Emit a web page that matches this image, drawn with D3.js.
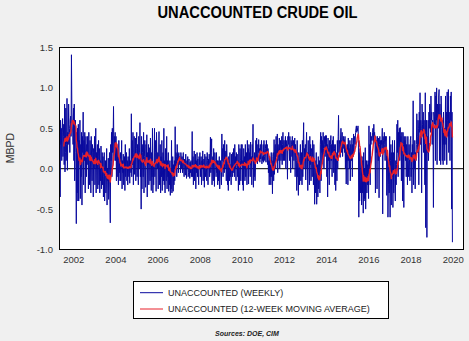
<!DOCTYPE html>
<html><head><meta charset="utf-8">
<script src="https://cdn.jsdelivr.net/npm/d3@7"></script>
<style>html,body{margin:0;padding:0;background:#f0f0f0;} svg{display:block;}</style>
</head><body><svg id="c" width="469" height="341"></svg>
<script>
// Weekly unaccounted crude (MBPD), one array per year (2001 starts in May)
const w2001 = [-0.58,0.55,-0.35,0.6,0.3,0.5,0.1,0.45,0.62,0.15,0.4,0.55,0.05,0.8,-0.04,0.2,0.75,0.1,0.3,0.87,-0.02,0.45,0.3,0.8,0.55,0.5,0.2,0.6,0.65,0.4,1.41,0.75,0.5,0.5,0.3];
const w2002 = [0.75,0.1,0.8,-0.15,0.5,0.6,0.2,-0.68,0.45,-0.3,0.5,-0.4,0.55,-0.4,0.35,0.1,0.6,-0.37,0.3,-0.1,0.45,-0.45,0.4,0.2,0.7,-0.2,0.35,0.1,0.45,-0.3,0.2,0.4,-0.1,0.3,0.05,0.4,0.3,-0.25,0.45,0.05,-0.2,0.35,0.15,-0.3,0.4,0.1,-0.15,0.3,0.2,-0.35,0.25,0.0];
const w2003 = [0.4,-0.2,0.1,0.5,-0.3,0.2,0.0,0.3,-0.25,0.15,0.35,-0.2,0.25,-0.3,0.1,-0.15,0.28,-0.25,0.0,0.2,-0.2,0.15,-0.35,-0.1,0.2,-0.4,-0.05,0.1,-0.3,-0.2,0.25,-0.45,0.0,-0.15,0.13,-0.38,-0.1,0.2,-0.3,-0.67,0.3,0.1,0.45,-0.1,0.5,0.2,0.35,0.77,0.1,0.4,0.25,0.45];
const w2004 = [0.1,0.4,-0.15,0.3,-0.1,0.25,0.0,-0.2,0.35,-0.05,0.1,-0.15,0.2,-0.15,0.05,0.35,-0.25,0.1,-0.05,0.18,-0.2,0.0,0.15,-0.27,0.3,-0.1,0.05,0.2,-0.15,0.1,-0.2,0.15,0.0,-0.1,0.25,-0.18,0.1,0.05,-0.05,0.68,-0.1,0.35,0.05,0.45,-0.2,0.2,0.4,-0.07,0.1,0.38,-0.15,0.25];
const w2005 = [0.45,-0.1,0.3,0.1,-0.2,0.4,0.0,0.2,0.57,-0.1,0.15,-0.5,0.4,-0.25,0.2,0.3,-0.1,0.45,-0.3,0.15,0.35,0.0,-0.23,0.3,0.1,0.42,-0.35,0.2,0.05,0.3,-0.2,0.26,0.1,-0.15,0.38,0.0,-0.27,0.2,-0.1,0.5,-0.3,0.05,-0.2,0.1,0.5,-0.1,0.35,0.2,-0.28,0.45,0.1,0.0];
const w2006 = [0.2,-0.25,0.1,0.46,-0.2,0.0,0.3,-0.3,0.15,-0.1,0.35,-0.27,0.05,0.2,-0.15,0.5,-0.2,0.1,-0.3,0.25,0.0,-0.15,0.4,-0.25,0.1,-0.1,0.2,-0.28,0.05,-0.2,0.1,-0.33,0.0,-0.25,0.35,-0.3,-0.1,0.15,-0.28,0.05,-0.2,0.1,-0.15,0.52,0.0,0.2,0.15,-0.1,0.3,0.1,0.18,-0.05];
const w2007 = [0.2,0.05,0.15,0.1,-0.05,0.2,0.12,0.0,0.15,-0.05,0.1,0.2,0.0,-0.1,0.12,0.05,-0.08,0.18,0.02,-0.12,0.1,0.0,0.15,-0.1,-0.05,0.12,0.0,-0.12,0.08,-0.05,0.1,-0.1,0.0,0.46,-0.1,0.15,-0.2,0.05,0.22,-0.15,0.0,0.18,-0.25,0.1,-0.05,0.2,-0.1,0.12,0.0,-0.2,0.15,0.05];
const w2008 = [0.2,-0.1,0.05,0.15,-0.2,0.1,0.0,0.22,-0.15,0.05,0.12,-0.23,0.18,0.0,-0.1,0.15,0.05,-0.15,0.2,0.1,-0.2,0.12,0.0,0.18,-0.1,0.05,0.39,-0.05,0.2,0.37,-0.2,0.1,0.15,-0.15,0.25,0.0,-0.22,0.2,0.1,0.05,-0.1,0.2,-0.05,0.1,-0.2,0.1,-0.15,0.0,0.15,-0.25,-0.05,0.1];
const w2009 = [0.0,-0.2,0.43,0.1,0.25,-0.1,0.3,0.2,-0.05,0.35,0.0,0.15,0.22,-0.15,0.3,0.1,-0.2,0.1,-0.27,0.15,0.0,-0.15,0.2,-0.1,0.05,-0.2,0.18,0.0,-0.1,0.2,-0.05,0.25,0.1,-0.1,0.3,0.0,0.15,-0.15,0.2,0.05,0.18,-0.1,0.1,-0.27,0.3,0.0,-0.2,0.25,0.1,-0.15,0.3,0.05];
const w2010 = [0.3,-0.2,0.1,-0.27,0.25,0.0,0.15,-0.15,0.3,-0.1,0.05,0.2,-0.2,0.35,0.0,0.25,-0.19,0.3,0.1,0.2,-0.1,0.33,0.05,0.15,-0.2,0.3,0.1,0.55,-0.23,0.1,-0.1,0.2,-0.15,0.0,0.35,0.1,0.38,0.15,0.06,0.3,0.2,0.36,0.1,0.25,0.08,0.3,0.12,0.2,0.35,0.06,0.15,0.1];
const w2011 = [0.3,0.08,0.35,0.15,0.1,0.3,0.25,0.08,0.35,0.2,0.3,0.05,0.25,-0.05,0.1,-0.2,0.15,-0.1,0.05,-0.2,0.2,-0.1,0.1,-0.31,0.15,0.2,-0.15,0.36,-0.07,0.25,0.3,0.0,0.4,0.15,0.2,0.43,-0.05,0.3,0.2,0.1,0.38,0.0,0.25,0.35,0.1,0.2,0.4,0.05,0.3,0.45,0.1,0.35];
const w2012 = [0.35,0.1,0.3,0.4,0.0,0.35,0.25,0.3,-0.13,0.4,0.3,0.45,0.3,0.1,0.4,0.25,-0.05,0.35,0.3,0.15,0.4,0.0,0.3,0.35,0.1,0.25,0.38,-0.1,0.3,0.2,0.1,-0.27,0.35,-0.1,0.0,-0.33,0.2,0.15,-0.2,0.1,0.3,-0.15,0.0,0.2,-0.2,0.35,-0.1,0.3,0.57,0.0,0.25,0.1];
const w2013 = [0.3,-0.14,0.25,0.45,0.0,0.2,-0.27,0.35,0.1,0.15,-0.2,0.4,0.05,0.3,-0.15,0.25,0.2,-0.1,0.35,0.1,-0.2,0.3,0.0,-0.44,0.1,-0.3,-0.1,0.2,-0.44,-0.2,0.05,-0.35,0.15,-0.25,-0.1,0.1,-0.3,0.3,0.45,-0.15,0.4,0.2,0.35,0.1,0.45,0.25,0.0,0.4,0.3,0.15,0.41,0.2];
const w2014 = [0.41,-0.1,0.3,-0.35,0.38,0.1,0.25,-0.2,0.35,0.0,0.3,0.41,0.1,0.3,-0.1,0.35,0.2,0.4,-0.05,0.3,0.25,-0.2,0.3,-0.27,0.2,0.1,-0.15,0.35,0.0,0.4,0.66,0.2,0.35,0.3,0.14,0.38,0.5,0.2,0.36,0.45,0.15,0.3,0.4,0.25,0.36,0.2,0.4,0.0,0.3,-0.19,0.25,0.1];
const w2015 = [0.3,-0.2,0.38,0.1,0.25,0.0,0.35,-0.15,0.3,0.2,0.1,0.38,-0.1,0.3,0.15,0.43,0.2,0.4,0.35,0.3,0.45,0.5,0.53,0.45,0.5,0.47,0.53,0.4,-0.6,0.2,-0.4,0.25,-0.3,-0.1,0.15,-0.45,0.15,-0.3,0.1,-0.55,0.2,-0.4,0.0,-0.37,0.26,-0.5,-0.1,0.1,-0.3,0.05,-0.2,0.1];
const w2016 = [-0.37,0.53,0.0,0.3,-0.2,0.45,0.3,0.4,0.35,0.35,0.45,0.5,0.3,0.55,0.4,0.45,0.35,-0.3,0.4,0.2,0.35,-0.25,0.4,0.3,0.1,0.38,-0.36,0.3,0.4,0.15,0.35,0.2,0.35,0.3,0.5,-0.56,0.4,0.35,0.2,0.45,0.3,0.1,0.4,0.35,0.4,-0.33,-0.1,0.2,-0.6,-0.2,0.1,-0.3];
const w2017 = [0.4,-0.6,0.1,0.3,-0.45,0.2,-0.1,0.35,-0.48,0.2,-0.3,0.0,0.35,-0.25,-0.4,0.1,-0.2,0.05,0.55,0.2,0.6,-0.1,0.45,0.35,0.5,0.1,0.51,0.3,0.4,-0.15,0.45,0.3,-0.4,0.45,0.3,-0.48,0.4,0.2,0.35,0.1,0.4,-0.1,0.3,0.2,-0.2,0.4,0.1,-0.1,0.3,0.15,-0.15,0.35];
const w2018 = [0.4,-0.1,0.2,-0.3,0.3,0.1,0.84,-0.2,0.15,0.0,0.35,-0.25,0.2,0.1,0.3,0.68,0.4,0.2,0.6,0.5,-0.2,0.7,0.45,0.94,0.3,0.6,0.5,-0.3,0.8,0.55,0.4,0.7,0.2,0.6,0.3,-0.2,0.94,-0.73,0.5,0.6,-0.85,0.4,0.2,0.6,0.1,0.7,0.5,0.8,0.6,0.45,0.9,0.6];
const w2019 = [0.7,0.3,0.6,0.5,-0.48,0.7,0.65,0.55,0.95,0.1,0.9,0.6,1.0,0.05,0.8,0.7,0.5,0.9,0.98,0.1,0.8,0.6,0.05,0.9,0.7,0.5,0.1,0.6,0.05,0.7,0.3,0.5,0.1,0.4,0.9,0.3,0.7,0.05,0.95,0.6,0.4,0.98,0.2,0.7,0.5,0.1,0.9,0.6,0.95,-0.5,0.7,-0.91];

const dataYears = [2001,2002,2003,2004,2005,2006,2007,2008,2009,2010,2011,2012,2013,2014,2015,2016,2017,2018,2019];
const weeklyByYear = [w2001,w2002,w2003,w2004,w2005,w2006,w2007,w2008,w2009,w2010,w2011,w2012,w2013,w2014,w2015,w2016,w2017,w2018,w2019];
const firstDayOfYear = {2001: 124}; // first weekly reading of 2001 is in early May
const yTicks = [1.5, 1.0, 0.5, 0.0, -0.5, -1.0];
const xTickYears = [2002,2004,2006,2008,2010,2012,2014,2016,2018,2020];
const maWindow = 12;
const titleText = "UNACCOUNTED CRUDE OIL";
const yLabel = "MBPD";
const seriesNames = ["UNACCOUNTED (WEEKLY)", "UNACCOUNTED (12-WEEK MOVING AVERAGE)"];
const sourceText = "Sources:  DOE, CIM";

const weekly = [];
dataYears.forEach((yr, i) => {
  const d0 = firstDayOfYear[yr] || 4;
  weeklyByYear[i].forEach((v, k) => weekly.push({date: new Date(yr, 0, d0 + 7 * k), value: v}));
});
const ma = [];
for (let i = maWindow - 1; i < weekly.length; i++) {
  ma.push({date: weekly[i].date, value: d3.mean(weekly.slice(i - maWindow + 1, i + 1), d => d.value)});
}

const svg = d3.select("#c");
const L = 59.5, R = 463.5, T = 47.5, B = 249.5;
const x = d3.scaleTime().domain([new Date(2002,0,1), new Date(2020,0,1)]).range([73.3, 452.7]);
const y = d3.scaleLinear().domain([-1, 1.5]).range([B, T]);
const font = "'Liberation Sans', Arial, sans-serif";

svg.append("rect").attr("width", 469).attr("height", 341).attr("fill", "#f0f0f0");
svg.append("defs").append("clipPath").attr("id", "pc").append("rect")
  .attr("x", L).attr("y", T).attr("width", R - L).attr("height", B - T);
svg.append("rect").attr("x", L).attr("y", T).attr("width", R - L).attr("height", B - T).attr("fill", "#fff");

const g = svg.append("g").attr("clip-path", "url(#pc)");
g.append("line").attr("x1", L).attr("x2", R).attr("y1", y(0)).attr("y2", y(0)).attr("stroke", "#000").attr("stroke-width", 1);
g.append("path").datum(weekly).attr("fill", "none").attr("stroke", "#0a0a9e").attr("stroke-width", 1)
  .attr("d", d3.line().x(d => x(d.date)).y(d => y(d.value)));
g.append("path").datum(ma).attr("fill", "none").attr("stroke", "#e8202a").attr("stroke-width", 1.4)
  .attr("stroke-linejoin", "round")
  .attr("d", d3.line().x(d => x(d.date)).y(d => y(d.value)));

svg.append("rect").attr("x", L).attr("y", T).attr("width", R - L).attr("height", B - T)
  .attr("fill", "none").attr("stroke", "#000").attr("stroke-width", 1);

const ya = svg.append("g").attr("transform", `translate(${L},0)`)
  .call(d3.axisLeft(y).tickValues(yTicks).tickSize(0).tickPadding(6.5).tickFormat(d => d.toFixed(1)));
ya.select(".domain").remove();
ya.selectAll("text").attr("font-family", font).attr("font-size", 9.5).attr("fill", "#333");

const xa = svg.append("g").attr("transform", `translate(0,${B})`)
  .call(d3.axisBottom(x).tickValues(xTickYears.map(yr => new Date(yr, 0, 1))).tickSize(0).tickPadding(6.5).tickFormat(d3.timeFormat("%Y")));
xa.select(".domain").remove();
xa.selectAll("text").attr("font-family", font).attr("font-size", 9.5).attr("fill", "#333");

svg.append("text").attr("transform", "translate(14,148) rotate(-90)").attr("text-anchor", "middle")
  .attr("font-family", font).attr("font-size", 10.5).attr("fill", "#333").text(yLabel);

svg.append("text").attr("x", 257.5).attr("y", 18.3).attr("text-anchor", "middle")
  .attr("font-family", font).attr("font-weight", "bold").attr("font-size", 16).attr("fill", "#000")
  .attr("textLength", 200).attr("lengthAdjust", "spacingAndGlyphs").text(titleText);

const lg = svg.append("g");
lg.append("rect").attr("x", 133.5).attr("y", 281.5).attr("width", 255).attr("height", 37)
  .attr("fill", "#fff").attr("stroke", "#000").attr("stroke-width", 1);
const colors = ["#0a0a9e", "#e8202a"];
seriesNames.forEach((n, i) => {
  const yy = 292.7 + i * 16.3;
  lg.append("line").attr("x1", 140).attr("x2", 163).attr("y1", yy).attr("y2", yy).attr("stroke", colors[i]).attr("stroke-width", 1);
  lg.append("text").attr("x", 168).attr("y", yy + 3.3).attr("font-family", font).attr("font-size", 9).attr("fill", "#222").text(n);
});

svg.append("text").attr("x", 247).attr("y", 336).attr("text-anchor", "middle")
  .attr("font-family", font).attr("font-weight", "bold").attr("font-style", "italic").attr("font-size", 7).attr("fill", "#222")
  .text(sourceText);
</script></body></html>
